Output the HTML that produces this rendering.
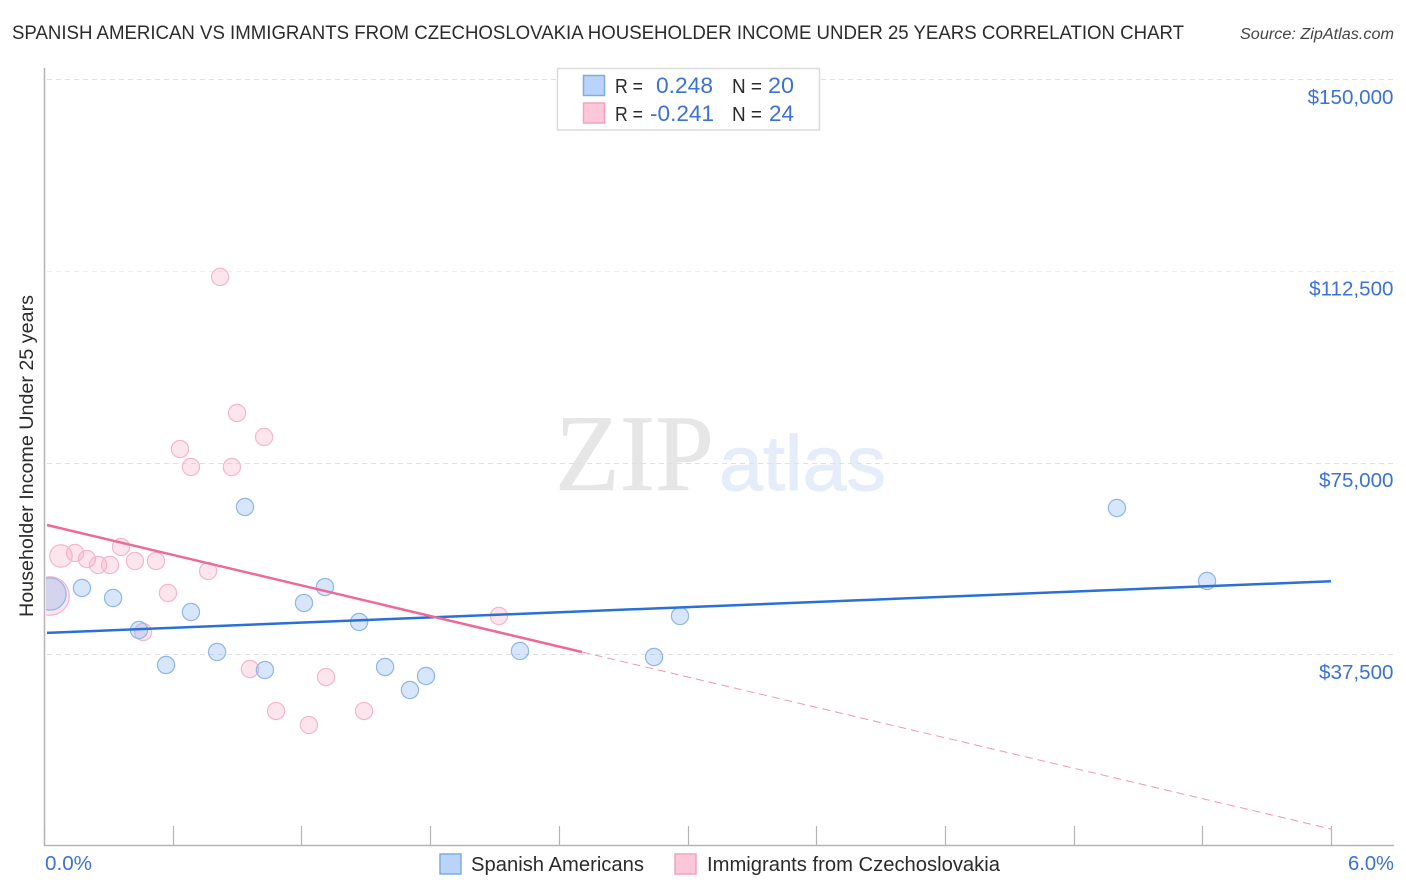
<!DOCTYPE html>
<html lang="en">
<head>
<meta charset="utf-8">
<title>Spanish American vs Immigrants from Czechoslovakia Householder Income Under 25 Years Correlation Chart</title>
<style>
html,body{margin:0;padding:0;background:#fff;width:1406px;height:892px;overflow:hidden}
svg{display:block}
text{font-family:"Liberation Sans",sans-serif}
</style>
</head>
<body>
<svg id="chart" width="1406" height="892" viewBox="0 0 1406 892" xmlns="http://www.w3.org/2000/svg">
  <defs>
    <clipPath id="plot-clip"><rect x="46" y="60" width="1350" height="786"/></clipPath>
  </defs>
  <text x="12" y="39" font-size="19" fill="#2b2b2b" textLength="1172" lengthAdjust="spacingAndGlyphs">SPANISH AMERICAN VS IMMIGRANTS FROM CZECHOSLOVAKIA HOUSEHOLDER INCOME UNDER 25 YEARS CORRELATION CHART</text>
  <text x="1394" y="39" font-size="15.5" font-style="italic" fill="#444" text-anchor="end" textLength="154" lengthAdjust="spacingAndGlyphs">Source: ZipAtlas.com</text>

  <g>
    <text x="555" y="490" font-size="109" fill="#e6e6e6" stroke="#e6e6e6" stroke-width="0.6" style="font-family:'Liberation Serif',serif" textLength="159" lengthAdjust="spacingAndGlyphs">ZIP</text>
    <text x="719" y="490" font-size="78" fill="#e4edf9" stroke="#e4edf9" stroke-width="1" textLength="167" lengthAdjust="spacingAndGlyphs">atlas</text>
  </g>

  <g id="grid"></g>
  <g id="axes"></g>
  <g id="y-labels"></g>
  <g id="marks" clip-path="url(#plot-clip)"></g>
  <g id="trends"></g>

  <text transform="translate(33,617) rotate(-90)" font-size="19.5" fill="#2b2b2b" textLength="322" lengthAdjust="spacingAndGlyphs">Householder Income Under 25 years</text>
  <text x="45" y="870" font-size="20" fill="#3b72d4" textLength="47" lengthAdjust="spacingAndGlyphs">0.0%</text>
  <text x="1394" y="870" font-size="20" fill="#3b72d4" text-anchor="end" textLength="46" lengthAdjust="spacingAndGlyphs">6.0%</text>

  <g>
    <rect x="557.5" y="68.5" width="262" height="61.5" fill="#fff" stroke="#dcdcdc" stroke-width="1.5"/>
    <rect x="583.5" y="75.5" width="21" height="20" fill="#b9d4f8" stroke="#7fabe6" stroke-width="1.5"/>
    <rect x="583.5" y="103" width="21" height="20" fill="#fcc8d9" stroke="#f3a3bd" stroke-width="1.5"/>
    <text x="615" y="93" font-size="20" fill="#2b2b2b" textLength="28" lengthAdjust="spacingAndGlyphs">R =</text>
    <text x="656" y="93" font-size="22" fill="#3b72d4" textLength="57" lengthAdjust="spacingAndGlyphs">0.248</text>
    <text x="732" y="93" font-size="20" fill="#2b2b2b" textLength="30" lengthAdjust="spacingAndGlyphs">N =</text>
    <text x="768" y="93" font-size="22" fill="#3b72d4" textLength="26" lengthAdjust="spacingAndGlyphs">20</text>
    <text x="615" y="121" font-size="20" fill="#2b2b2b" textLength="28" lengthAdjust="spacingAndGlyphs">R =</text>
    <text x="650" y="121" font-size="22" fill="#3b72d4" textLength="64" lengthAdjust="spacingAndGlyphs">-0.241</text>
    <text x="732" y="121" font-size="20" fill="#2b2b2b" textLength="30" lengthAdjust="spacingAndGlyphs">N =</text>
    <text x="769" y="121" font-size="22" fill="#3b72d4" textLength="25" lengthAdjust="spacingAndGlyphs">24</text>
  </g>

  <g>
    <g>
      <rect x="440" y="854" width="21" height="20" fill="#b9d4f8" stroke="#7fabe6" stroke-width="1.5"/>
      <text x="471" y="871" font-size="20" fill="#2b2b2b" textLength="173" lengthAdjust="spacingAndGlyphs">Spanish Americans</text>
    </g>
    <g>
      <rect x="675" y="854" width="21" height="20" fill="#fcc8d9" stroke="#f3a3bd" stroke-width="1.5"/>
      <text x="707" y="871" font-size="20" fill="#2b2b2b" textLength="293" lengthAdjust="spacingAndGlyphs">Immigrants from Czechoslovakia</text>
    </g>
  </g>
</svg>
<script>
var yTickValues = [37500, 75000, 112500, 150000];
var yTickLabels = ["$37,500", "$75,000", "$112,500", "$150,000"];
var xTickValues = [0, 0.6, 1.2, 1.8, 2.4, 3.0, 3.6, 4.2, 4.8, 5.4, 6.0];

var blueRates = [0.028, 0.177, 0.322, 0.443, 0.569, 0.685, 0.807, 0.937, 1.030, 1.212, 1.310, 1.469, 1.590, 1.706, 1.781, 2.219, 2.844, 2.965, 5.002, 5.422];
var blueIncomes = [49300, 50480, 48520, 42260, 35410, 45780, 37960, 66330, 34430, 47540, 50670, 43830, 35020, 30520, 33260, 38150, 36980, 45000, 66130, 51850];
var blueWeights = [3.5, 1, 1, 1, 1, 1, 1, 1, 1, 1, 1, 1, 1, 1, 1, 1, 1, 1, 1, 1];

var pinkRates = [0.028, 0.079, 0.145, 0.200, 0.252, 0.308, 0.359, 0.424, 0.522, 0.578, 0.462, 0.765, 0.821, 0.634, 0.685, 0.876, 0.900, 1.026, 0.960, 1.082, 1.235, 1.315, 1.492, 2.121];
var pinkIncomes = [48910, 56740, 57330, 56150, 54980, 54980, 58500, 55760, 55760, 49500, 41870, 53800, 111330, 77670, 74150, 74150, 84720, 80020, 34630, 26410, 23670, 33060, 26410, 45000];
var pinkWeights = [5, 1.7, 1, 1, 1, 1, 1, 1, 1, 1, 1, 1, 1, 1, 1, 1, 1, 1, 1, 1, 1, 1, 1, 1];

var blueTrendRates = [0.014, 6.0];
var blueTrendIncomes = [41700, 51800];
var pinkTrendRates = [0.014, 2.508];
var pinkTrendIncomes = [62800, 37960];
var pinkDashRates = [2.508, 6.0];
var pinkDashIncomes = [37960, 3330];

var NS = "http://www.w3.org/2000/svg";
function xScale(rate) { return 44 + rate * 214.5; }
function yScale(income) { return 846 - income * 191.67 / 37500; }
function make(tag, parent, attrs) {
  var el = document.createElementNS(NS, tag);
  for (var k in attrs) { el.setAttribute(k, attrs[k]); }
  parent.appendChild(el);
  return el;
}

var gridG = document.getElementById("grid");
var axesG = document.getElementById("axes");
var yLabelsG = document.getElementById("y-labels");
var marksG = document.getElementById("marks");
var trendsG = document.getElementById("trends");

yTickValues.forEach(function (v, i) {
  var y = Math.round(yScale(v)) + 0.5;
  var line = make("line", gridG, { x1: 47, x2: 1394, y1: y, y2: y, stroke: v === 112500 ? "#eeeeee" : "#e0e0e0", "stroke-width": 1, "stroke-dasharray": "5 4" });
  
  
  var label = make("text", yLabelsG, { x: 1393.5, y: yScale(v) + 24.5, "font-size": 20.6, fill: "#3b72d4", "text-anchor": "end" });
  
  
  label.textContent = yTickLabels[i];
});

var yAxis = make("line", axesG, { x1: 44.5, x2: 44.5, y1: 68, y2: 846, stroke: "#b4b4b4", "stroke-width": 1.5 });


var xAxis = make("line", axesG, { x1: 44, x2: 1394, y1: 845.5, y2: 845.5, stroke: "#b4b4b4", "stroke-width": 1.5 });


xTickValues.forEach(function (v) {
  var x = Math.round(xScale(v)) + 0.5;
  var tick = make("line", axesG, { x1: x, x2: x, y1: 826, y2: 846, stroke: "#b4b4b4", "stroke-width": 1.2 });
  
  
});

function radius(weight) { return 8.6 * Math.sqrt(weight); }

pinkRates.forEach(function (rate, i) {
  var c = make("circle", marksG, { cx: xScale(rate), cy: yScale(pinkIncomes[i]), r: radius(pinkWeights[i]), fill: "rgba(248,170,196,0.3)", stroke: "#f5b6cb", "stroke-width": 1.2 });
  
  
});
blueRates.forEach(function (rate, i) {
  var c = make("circle", marksG, { cx: xScale(rate), cy: yScale(blueIncomes[i]), r: radius(blueWeights[i]), fill: "rgba(130,178,240,0.32)", stroke: "#8fb6ea", "stroke-width": 1.2 });
  
  
});

var blueLine = make("line", trendsG, { x1: xScale(blueTrendRates[0]), y1: yScale(blueTrendIncomes[0]), x2: xScale(blueTrendRates[1]), y2: yScale(blueTrendIncomes[1]), stroke: "#2a70d6", "stroke-width": 2.5 });


var pinkLine = make("line", trendsG, { x1: xScale(pinkTrendRates[0]), y1: yScale(pinkTrendIncomes[0]), x2: xScale(pinkTrendRates[1]), y2: yScale(pinkTrendIncomes[1]), stroke: "#ec6a96", "stroke-width": 2.5 });


var pinkDash = make("line", trendsG, { x1: xScale(pinkDashRates[0]), y1: yScale(pinkDashIncomes[0]), x2: xScale(pinkDashRates[1]), y2: yScale(pinkDashIncomes[1]), stroke: "#f296b5", "stroke-width": 1, "stroke-dasharray": "8 5" });


</script>
</body>
</html>
